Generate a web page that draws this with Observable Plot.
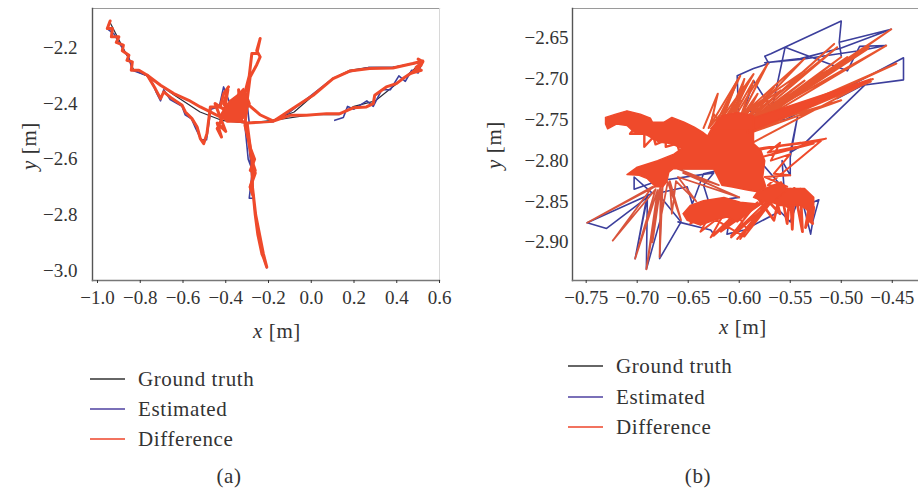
<!DOCTYPE html>
<html><head><meta charset="utf-8">
<script src="https://cdn.jsdelivr.net/npm/d3@7"></script>
<script src="https://cdn.jsdelivr.net/npm/@observablehq/plot@0.6"></script>
<style>
html,body{margin:0;padding:0;background:#fff}
#page{position:relative;width:918px;height:491px;overflow:hidden;font-family:"Liberation Serif",serif;color:#333}
#page svg{position:absolute;top:0;background:transparent}
.t{position:absolute;white-space:nowrap;font-size:21px;line-height:22px;letter-spacing:.6px}
.sw{position:absolute;height:2px;width:35px}
</style></head><body><div id="page"></div>
<script>
const legendLabels = ["Ground truth","Estimated","Difference"];
const legendColors = ["#666666","#7a70b8","#f2735f"];
const seriesColors = {truth:"#2b2b3a", est:"#3c3f9c", diff:"#ef4a2b", pale:"#e8552f"};
const ticksAx = [-1,-0.8,-0.6,-0.4,-0.2,0,0.2,0.4,0.6];
const ticksAy = [-2.2,-2.4,-2.6,-2.8,-3.0];
const ticksBx = [-0.75,-0.70,-0.65,-0.60,-0.55,-0.50,-0.45];
const ticksBy = [-2.65,-2.70,-2.75,-2.80,-2.85,-2.90];

// Panel (a)
const truthA = [[-0.94,-2.11],[-0.90,-2.17],[-0.86,-2.23],[-0.83,-2.28],[-0.77,-2.30],[-0.64,-2.37],[-0.52,-2.43],[-0.42,-2.46],[-0.30,-2.47],[-0.18,-2.46],[-0.08,-2.43],[0.01,-2.37],[0.10,-2.31],[0.18,-2.28],[0.27,-2.27],[0.38,-2.27],[0.52,-2.25],[0.43,-2.31],[0.30,-2.39],[0.20,-2.41],[0.13,-2.44],[0.00,-2.44],[-0.18,-2.46]];
const truthStemA = [[-0.30,-2.47],[-0.28,-2.60],[-0.27,-2.74],[-0.25,-2.85],[-0.208,-2.99]];
const estA = [[-0.941,-2.103],[-0.955,-2.13],[-0.922,-2.15],[-0.90,-2.18],[-0.876,-2.21],[-0.853,-2.235],[-0.837,-2.28],[-0.767,-2.30],[-0.74,-2.33],[-0.725,-2.36],[-0.705,-2.39],[-0.69,-2.35],[-0.66,-2.385],[-0.627,-2.40],[-0.604,-2.41],[-0.59,-2.44],[-0.56,-2.455],[-0.54,-2.49],[-0.515,-2.53],[-0.49,-2.53],[-0.47,-2.42],[-0.43,-2.41],[-0.41,-2.34],[-0.36,-2.44],[-0.33,-2.46],[-0.30,-2.40],[-0.29,-2.47],[-0.31,-2.48],[-0.295,-2.60],[-0.275,-2.64],[-0.29,-2.74],[-0.27,-2.74],[-0.255,-2.83],[-0.23,-2.94],[-0.208,-2.99],[-0.23,-2.94],[-0.262,-2.80],[-0.27,-2.74],[-0.285,-2.60],[-0.30,-2.47],[-0.18,-2.465],[-0.10,-2.43],[0.00,-2.37],[0.10,-2.31],[0.18,-2.285],[0.27,-2.27],[0.38,-2.27],[0.52,-2.25],[0.50,-2.29],[0.47,-2.28],[0.44,-2.32],[0.41,-2.30],[0.37,-2.35],[0.33,-2.35],[0.29,-2.41],[0.26,-2.39],[0.20,-2.42],[0.17,-2.41],[0.15,-2.45],[0.11,-2.46]];
const diffA = [[-0.941,-2.103],[-0.954,-2.13],[-0.93,-2.13],[-0.935,-2.16],[-0.90,-2.16],[-0.912,-2.18],[-0.879,-2.19],[-0.884,-2.21],[-0.853,-2.226],[-0.862,-2.244],[-0.837,-2.25],[-0.842,-2.28],[-0.806,-2.28],[-0.767,-2.298],[-0.736,-2.316],[-0.705,-2.334],[-0.643,-2.364],[-0.573,-2.388],[-0.519,-2.412],[-0.472,-2.43],[-0.426,-2.448],[-0.363,-2.46],[-0.317,-2.466],[-0.45,-2.40],[-0.40,-2.50],[-0.44,-2.47],[-0.42,-2.52],[-0.44,-2.49],[-0.41,-2.44],[-0.39,-2.35],[-0.41,-2.40],[-0.37,-2.45],[-0.35,-2.38],[-0.38,-2.44],[-0.33,-2.42],[-0.34,-2.35],[-0.33,-2.45],[-0.29,-2.40],[-0.31,-2.36],[-0.29,-2.30],[-0.278,-2.22],[-0.255,-2.22],[-0.239,-2.166],[-0.255,-2.21],[-0.239,-2.232],[-0.255,-2.26],[-0.286,-2.304],[-0.30,-2.39],[-0.31,-2.478],[-0.294,-2.53],[-0.278,-2.604],[-0.262,-2.64],[-0.286,-2.70],[-0.27,-2.736],[-0.262,-2.80],[-0.25,-2.87],[-0.231,-2.94],[-0.224,-2.952],[-0.208,-2.988],[-0.224,-2.94],[-0.215,-2.97],[-0.224,-2.94],[-0.26,-2.80],[-0.275,-2.70],[-0.278,-2.60],[-0.30,-2.47],[-0.177,-2.463],[-0.099,-2.424],[0.009,-2.37],[0.102,-2.31],[0.18,-2.283],[0.273,-2.274],[0.382,-2.272],[0.475,-2.256],[0.522,-2.247],[0.514,-2.262],[0.475,-2.286],[0.429,-2.31],[0.398,-2.328],[0.351,-2.34],[0.297,-2.37],[0.29,-2.40],[0.258,-2.412],[0.196,-2.415],[0.134,-2.436],[0.071,-2.436],[-0.022,-2.442],[-0.099,-2.442],[-0.177,-2.463],[-0.24,-2.44],[-0.30,-2.40]];
const lowerA = [[-0.767,-2.298],[-0.73,-2.346],[-0.705,-2.382],[-0.69,-2.358],[-0.651,-2.382],[-0.627,-2.394],[-0.604,-2.406],[-0.589,-2.43],[-0.558,-2.454],[-0.534,-2.484],[-0.519,-2.526],[-0.503,-2.544],[-0.488,-2.508],[-0.472,-2.412],[-0.426,-2.412],[-0.41,-2.364],[-0.387,-2.34]];
const blobA = [[-0.426,-2.442],[-0.402,-2.412],[-0.379,-2.388],[-0.348,-2.37],[-0.317,-2.346],[-0.294,-2.388],[-0.301,-2.436],[-0.332,-2.466],[-0.394,-2.466]];
const stemA = [[-0.30,-2.50],[-0.285,-2.56],[-0.265,-2.60],[-0.285,-2.64],[-0.262,-2.65],[-0.285,-2.70],[-0.272,-2.73]];
const endsA = [[0.50,-2.24],[0.522,-2.25],[0.49,-2.27],[0.515,-2.28],[0.47,-2.29]];

// Panel (b)
const estB = [[-0.60,-2.77],[-0.602,-2.696],[-0.586,-2.687],[-0.571,-2.681],[-0.575,-2.672],[-0.569,-2.669],[-0.50,-2.629],[-0.502,-2.655],[-0.50,-2.672],[-0.502,-2.655],[-0.451,-2.639],[-0.50,-2.662],[-0.54,-2.675],[-0.575,-2.680],[-0.54,-2.676],[-0.481,-2.665],[-0.456,-2.659],[-0.482,-2.66],[-0.494,-2.69],[-0.555,-2.661],[-0.568,-2.737],[-0.586,-2.702],[-0.595,-2.738],[-0.58,-2.742],[-0.60,-2.75],[-0.58,-2.75],[-0.555,-2.75],[-0.439,-2.674],[-0.439,-2.701],[-0.481,-2.708],[-0.504,-2.724],[-0.475,-2.705],[-0.537,-2.78],[-0.55,-2.79],[-0.543,-2.747],[-0.55,-2.796],[-0.55,-2.818],[-0.558,-2.80],[-0.556,-2.835],[-0.58,-2.80],[-0.635,-2.816],[-0.646,-2.853],[-0.651,-2.832],[-0.68,-2.84],[-0.657,-2.875],[-0.678,-2.92],[-0.677,-2.871],[-0.691,-2.933],[-0.69,-2.841],[-0.702,-2.92],[-0.69,-2.845],[-0.73,-2.883],[-0.749,-2.876],[-0.685,-2.84],[-0.703,-2.82],[-0.703,-2.835],[-0.68,-2.825],[-0.625,-2.815],[-0.635,-2.83],[-0.63,-2.85],[-0.60,-2.845]];
const estB2 = [[-0.66,-2.875],[-0.628,-2.885],[-0.625,-2.89],[-0.61,-2.875],[-0.612,-2.89],[-0.595,-2.885],[-0.56,-2.862],[-0.55,-2.875],[-0.54,-2.84],[-0.53,-2.89],[-0.528,-2.875],[-0.522,-2.848],[-0.535,-2.855]];
const fanB = [[-0.635,-2.76],[-0.621,-2.718],[-0.628,-2.756],[-0.599,-2.696],[-0.62,-2.753],[-0.586,-2.694],[-0.612,-2.75],[-0.595,-2.70],[-0.605,-2.748],[-0.572,-2.681],[-0.598,-2.745],[-0.536,-2.675],[-0.592,-2.748],[-0.504,-2.661],[-0.59,-2.752],[-0.473,-2.661],[-0.585,-2.75],[-0.456,-2.659],[-0.586,-2.756],[-0.451,-2.639],[-0.59,-2.755],[-0.494,-2.673],[-0.585,-2.757],[-0.446,-2.681],[-0.588,-2.762],[-0.469,-2.70],[-0.595,-2.765],[-0.471,-2.703],[-0.594,-2.768],[-0.50,-2.726],[-0.59,-2.76],[-0.475,-2.704],[-0.59,-2.78]];
const fan2B = [[-0.625,-2.76],[-0.602,-2.702],[-0.618,-2.755],[-0.592,-2.706],[-0.61,-2.755],[-0.586,-2.702],[-0.60,-2.75],[-0.582,-2.718],[-0.596,-2.752],[-0.566,-2.71],[-0.59,-2.755],[-0.536,-2.702],[-0.588,-2.75],[-0.514,-2.69],[-0.586,-2.752],[-0.50,-2.673],[-0.585,-2.754],[-0.474,-2.663],[-0.59,-2.75],[-0.507,-2.657],[-0.592,-2.752],[-0.536,-2.69],[-0.60,-2.745],[-0.559,-2.714],[-0.605,-2.75],[-0.572,-2.726],[-0.61,-2.75],[-0.586,-2.734],[-0.615,-2.755],[-0.599,-2.726],[-0.62,-2.755],[-0.612,-2.734],[-0.63,-2.76],[-0.625,-2.743],[-0.615,-2.76]];
const armB = [[-0.582,-2.787],[-0.515,-2.773],[-0.579,-2.796],[-0.527,-2.779],[-0.572,-2.79],[-0.56,-2.778],[-0.569,-2.80],[-0.55,-2.792],[-0.566,-2.816],[-0.55,-2.818],[-0.575,-2.82],[-0.553,-2.832],[-0.572,-2.83],[-0.52,-2.776],[-0.58,-2.785],[-0.54,-2.778]];
const fingersB = [[-0.582,-2.845],[-0.566,-2.873],[-0.559,-2.836],[-0.553,-2.877],[-0.55,-2.835],[-0.548,-2.884],[-0.546,-2.834],[-0.538,-2.887],[-0.54,-2.835],[-0.528,-2.877],[-0.537,-2.836],[-0.53,-2.875],[-0.53,-2.845],[-0.535,-2.882],[-0.527,-2.857],[-0.529,-2.876],[-0.535,-2.84],[-0.55,-2.86],[-0.565,-2.84],[-0.56,-2.865],[-0.575,-2.845],[-0.57,-2.835],[-0.555,-2.834]];
const leftFanB = [[-0.68,-2.83],[-0.749,-2.876],[-0.685,-2.832],[-0.724,-2.898],[-0.682,-2.835],[-0.702,-2.92],[-0.68,-2.836],[-0.691,-2.933],[-0.678,-2.835],[-0.685,-2.90],[-0.677,-2.83],[-0.678,-2.918],[-0.675,-2.83],[-0.677,-2.871],[-0.67,-2.826],[-0.657,-2.873],[-0.668,-2.825],[-0.666,-2.865],[-0.662,-2.825],[-0.642,-2.85],[-0.66,-2.82],[-0.60,-2.845],[-0.655,-2.815],[-0.62,-2.83],[-0.66,-2.81],[-0.60,-2.81]];
const bandB = [[-0.599,-2.896],[-0.572,-2.849],[-0.608,-2.892],[-0.582,-2.851],[-0.618,-2.887],[-0.592,-2.855],[-0.625,-2.892],[-0.60,-2.86],[-0.628,-2.894],[-0.615,-2.865],[-0.638,-2.887],[-0.628,-2.865],[-0.648,-2.877],[-0.64,-2.86],[-0.595,-2.893],[-0.565,-2.845],[-0.602,-2.896],[-0.578,-2.86],[-0.608,-2.894],[-0.59,-2.862],[-0.618,-2.887],[-0.60,-2.87],[-0.592,-2.885],[-0.57,-2.85]];
const bodyB = [[-0.731,-2.747],[-0.721,-2.743],[-0.71,-2.739],[-0.697,-2.743],[-0.687,-2.748],[-0.685,-2.753],[-0.674,-2.753],[-0.666,-2.747],[-0.654,-2.753],[-0.644,-2.759],[-0.636,-2.765],[-0.631,-2.77],[-0.628,-2.763],[-0.621,-2.757],[-0.612,-2.753],[-0.599,-2.749],[-0.586,-2.755],[-0.586,-2.779],[-0.579,-2.787],[-0.575,-2.80],[-0.577,-2.82],[-0.574,-2.832],[-0.582,-2.838],[-0.592,-2.836],[-0.608,-2.832],[-0.617,-2.83],[-0.621,-2.82],[-0.625,-2.81],[-0.665,-2.81],[-0.669,-2.814],[-0.671,-2.826],[-0.675,-2.832],[-0.682,-2.832],[-0.69,-2.822],[-0.698,-2.818],[-0.71,-2.817],[-0.70,-2.808],[-0.68,-2.80],[-0.664,-2.792],[-0.656,-2.785],[-0.667,-2.779],[-0.679,-2.777],[-0.69,-2.769],[-0.703,-2.765],[-0.71,-2.757],[-0.72,-2.755],[-0.729,-2.761],[-0.731,-2.755]];
const jagB = [[-0.703,-2.761],[-0.707,-2.767],[-0.693,-2.767],[-0.693,-2.783],[-0.684,-2.771],[-0.682,-2.78],[-0.672,-2.775],[-0.672,-2.783],[-0.661,-2.779],[-0.659,-2.787]];
const lowerBlobB = [[-0.655,-2.865],[-0.648,-2.855],[-0.635,-2.849],[-0.615,-2.845],[-0.599,-2.851],[-0.582,-2.853],[-0.569,-2.845],[-0.592,-2.865],[-0.602,-2.875],[-0.612,-2.869],[-0.625,-2.873],[-0.638,-2.879],[-0.651,-2.873]];
const rightBlobB = [[-0.572,-2.849],[-0.559,-2.834],[-0.536,-2.834],[-0.527,-2.845],[-0.527,-2.865],[-0.54,-2.855],[-0.56,-2.855]];
const linkB = [[-0.582,-2.838],[-0.559,-2.826],[-0.553,-2.836],[-0.569,-2.853],[-0.586,-2.845]];
const wedgeB = [[-0.592,-2.75],[-0.471,-2.70],[-0.48,-2.707],[-0.592,-2.766]];
const baseB = [[-0.628,-2.761],[-0.617,-2.745],[-0.602,-2.741],[-0.586,-2.745],[-0.586,-2.761]];

const mm = (a,s,w,extra={}) => Plot.line(a,{x:d=>d[0],y:d=>d[1],stroke:s,strokeWidth:w,curve:"linear",strokeLinejoin:"round",strokeLinecap:"round",...extra});
const solid = (a,s) => mm([...a,a[0]],s,1.5,{fill:s});
const frame = () => [
  Plot.frame({anchor:"top",stroke:"#9a9a9a",strokeWidth:1.2}),
  Plot.frame({anchor:"right",stroke:"#d8d8d8",strokeWidth:1}),
  Plot.frame({anchor:"left",stroke:"#555",strokeWidth:1.4}),
  Plot.frame({anchor:"bottom",stroke:"#777",strokeWidth:1.4})
];
const S = seriesColors;
const common = {height:320,marginTop:8,marginBottom:40,style:{fontFamily:"'Liberation Serif',serif",fontSize:"19px",color:"#333",background:"transparent"}};

const plotA = Plot.plot({...common,width:459,marginLeft:92,marginRight:20,
  x:{domain:[-1.0234,0.6],label:null},
  y:{domain:[-3.036,-2.058],label:null},
  marks:[...frame(),
    Plot.axisX(ticksAx,{anchor:"bottom",tickSize:3,tickPadding:7,label:null,tickFormat:d3.format(".1f")}),
    Plot.axisY(ticksAy,{anchor:"left",tickSize:0,tickPadding:15,label:null,tickFormat:d3.format(".1f")}),
    mm(truthA,S.truth,1.2), mm(truthStemA,S.truth,1.2), mm(estA,S.est,1.6), mm(lowerA,S.est,1.6),
    mm(diffA,S.diff,3), mm(lowerA,S.diff,3), mm(stemA,S.diff,3), mm(endsA,S.diff,3), solid(blobA,S.diff)
  ]});
plotA.style.left="0px";

const plotB = Plot.plot({...common,width:459,marginLeft:113,marginRight:0,
  x:{domain:[-0.7634,-0.4243],label:null},
  y:{domain:[-2.9468,-2.6136],label:null},
  marks:[...frame(),
    Plot.axisX(ticksBx,{anchor:"bottom",tickSize:3,tickPadding:7,label:null,tickFormat:d3.format(".2f")}),
    Plot.axisY(ticksBy,{anchor:"left",tickSize:0,tickPadding:4,label:null,tickFormat:d3.format(".2f")}),
    mm(estB,S.est,1.6), mm(estB2,S.est,1.6),
    mm(fanB,S.pale,2), mm(fan2B,S.pale,2), mm(armB,S.diff,2), mm(fingersB,S.diff,2.8), mm(leftFanB,"#d9543c",1.8), mm(bandB,S.diff,2),
    mm(jagB,S.diff,2.4), solid(bodyB,S.diff), solid(lowerBlobB,S.diff), solid(rightBlobB,S.diff), solid(linkB,S.diff), solid(wedgeB,S.diff), solid(baseB,S.diff)
  ]});
plotB.style.left="459px";

const page=document.getElementById("page");
page.append(plotA,plotB);
const text=(html,x,y,o={})=>{const e=document.createElement("div");e.className="t";e.innerHTML=html;e.style.left=x+"px";e.style.top=(y-11)+"px";if(o.center)e.style.transform=o.rot?"translate(-50%,0) rotate(-90deg)":"translate(-50%,0)";page.append(e);};
[[90,138,[379,409,439]],[568,616,[366,397,427]]].forEach(([sx,tx,ys])=>{
  ys.forEach((y,i)=>{
    const s=document.createElement("div");s.className="sw";s.style.left=sx+"px";s.style.top=(y-1)+"px";s.style.background=legendColors[i];page.append(s);
    text(legendLabels[i],tx,y);
  });
});
text("<i>x</i> [m]",277,331,{center:true});
text("<i>x</i> [m]",743,327,{center:true});
text("<i>y</i> [m]",29,146,{center:true,rot:true});
text("<i>y</i> [m]",494,145,{center:true,rot:true});
text("(a)",229,476,{center:true});
text("(b)",698,476,{center:true});
</script></body></html>
